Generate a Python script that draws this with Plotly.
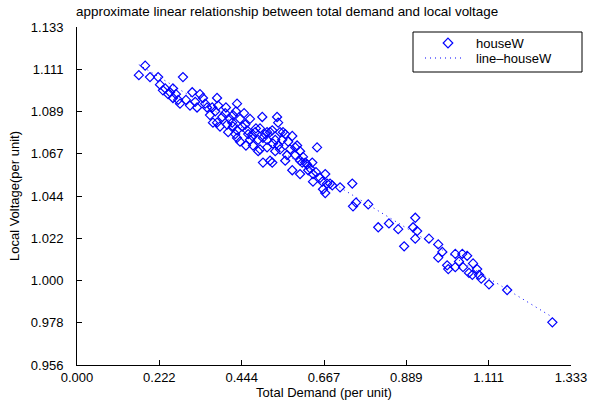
import numpy as np
import plotly.graph_objects as go

# Total demand (per unit) and local voltage (per unit)
demand = [0.167, 0.184, 0.197, 0.219, 0.224, 0.232, 0.238, 0.246, 0.251, 0.259,
          0.259, 0.267, 0.273, 0.278, 0.286, 0.294, 0.305, 0.311, 0.319, 0.324,
          0.332, 0.340, 0.346, 0.351, 0.359, 0.365, 0.367, 0.373, 0.378, 0.378,
          0.381, 0.386, 0.392, 0.400, 0.402, 0.405, 0.408, 0.413, 0.419, 0.421,
          0.421, 0.427, 0.429, 0.432, 0.432, 0.432, 0.440, 0.440, 0.446, 0.451,
          0.454, 0.456, 0.459, 0.462, 0.467, 0.467, 0.473, 0.475, 0.481, 0.483,
          0.489, 0.489, 0.494, 0.494, 0.500, 0.502, 0.502, 0.508, 0.513, 0.513,
          0.513, 0.521, 0.521, 0.527, 0.527, 0.529, 0.535, 0.535, 0.540, 0.543,
          0.543, 0.548, 0.548, 0.554, 0.556, 0.562, 0.562, 0.567, 0.570, 0.575,
          0.581, 0.581, 0.589, 0.589, 0.594, 0.602, 0.602, 0.602, 0.608, 0.610,
          0.616, 0.621, 0.624, 0.629, 0.635, 0.637, 0.637, 0.645, 0.648, 0.656,
          0.662, 0.664, 0.670, 0.670, 0.675, 0.683, 0.689, 0.710, 0.743, 0.745,
          0.753, 0.786, 0.813, 0.842, 0.867, 0.883, 0.907, 0.913, 0.913, 0.918,
          0.950, 0.975, 0.975, 0.986, 0.999, 1.002, 1.021, 1.021, 1.031, 1.040,
          1.042, 1.053, 1.058, 1.067, 1.069, 1.080, 1.085, 1.091, 1.112, 1.161,
          1.283]
voltage = [1.108, 1.113, 1.107, 1.107, 1.103, 1.100, 1.101, 1.098, 1.099, 1.101,
           1.096, 1.098, 1.095, 1.093, 1.107, 1.095, 1.092, 1.099, 1.094, 1.091,
           1.098, 1.096, 1.093, 1.091, 1.087, 1.091, 1.083, 1.089, 1.096, 1.083,
           1.092, 1.081, 1.086, 1.088, 1.091, 1.082, 1.078, 1.085, 1.083, 1.087,
           1.081, 1.077, 1.089, 1.093, 1.079, 1.075, 1.085, 1.073, 1.081, 1.088,
           1.082, 1.071, 1.079, 1.077, 1.085, 1.074, 1.076, 1.071, 1.078, 1.080,
           1.074, 1.068, 1.080, 1.069, 1.086, 1.075, 1.062, 1.077, 1.078, 1.074,
           1.070, 1.078, 1.063, 1.079, 1.062, 1.072, 1.074, 1.068, 1.086, 1.083,
           1.071, 1.078, 1.069, 1.074, 1.078, 1.077, 1.063, 1.066, 1.073, 1.069,
           1.076, 1.058, 1.070, 1.066, 1.071, 1.068, 1.063, 1.056, 1.062, 1.065,
           1.062, 1.061, 1.058, 1.059, 1.062, 1.056, 1.052, 1.057, 1.070, 1.054,
           1.052, 1.048, 1.056, 1.046, 1.051, 1.051, 1.050, 1.049, 1.051, 1.039,
           1.041, 1.040, 1.028, 1.030, 1.027, 1.018, 1.028, 1.033, 1.022, 1.026,
           1.022, 1.019, 1.012, 1.015, 1.008, 1.006, 1.014, 1.007, 1.010, 1.014,
           1.007, 1.013, 1.004, 1.003, 1.009, 1.006, 1.003, 1.001, 0.998, 0.995,
           0.978]

x_tickvals = [0.0, 0.22222, 0.44444, 0.66667, 0.88889, 1.11111, 1.33333]
x_ticktext = ["0.000", "0.222", "0.444", "0.667", "0.889", "1.111", "1.333"]
y_tickvals = [0.95556, 0.97778, 1.0, 1.02222, 1.04444, 1.06667, 1.08889, 1.11111, 1.13333]
y_ticktext = ["0.956", "0.978", "1.000", "1.022", "1.044", "1.067", "1.089", "1.111", "1.133"]
series_names = ["houseW", "line\u2013houseW"]

# linear fit line (line-houseW)
coef = np.polyfit(demand, voltage, 1)
fit_x = np.array(sorted(demand))
fit_y = np.polyval(coef, fit_x)

FONT = "Liberation Sans, Arial, sans-serif"
BLUE = "#0000FF"
DOTS = "1px,4px"

fig = go.Figure()
fig.add_trace(go.Scatter(
    x=demand, y=voltage, mode="markers", name=series_names[0],
    marker=dict(symbol="diamond-open", size=7, color=BLUE, line=dict(width=1.2, color=BLUE)),
))
fig.add_trace(go.Scatter(
    x=fit_x, y=fit_y, mode="lines", name=series_names[1],
    line=dict(color=BLUE, width=1, dash=DOTS),
))

axis_common = dict(
    showline=True, linecolor="black", linewidth=1, mirror=False,
    ticks="inside", ticklen=5, tickcolor="black", tickwidth=1,
    showgrid=False, zeroline=False, automargin=False,
    tickfont=dict(family=FONT, size=13, color="black"),
)

fig.update_layout(
    width=592, height=403,
    margin=dict(l=77, r=21, t=27, b=38),
    paper_bgcolor="white", plot_bgcolor="white",
    font=dict(family=FONT, size=13, color="black"),
    title=dict(text="approximate linear relationship between total demand and local voltage",
               x=0.485, xanchor="center", y=0.972, yanchor="middle",
               font=dict(family=FONT, size=13.4, color="black")),
    xaxis=dict(range=[0, 1.33333], tickvals=x_tickvals, ticktext=x_ticktext,
               ticklabelstandoff=0,
               title=dict(text="Total Demand (per unit)", standoff=1,
                          font=dict(family=FONT, size=13, color="black")),
               **axis_common),
    yaxis=dict(range=[0.95556, 1.13333], tickvals=y_tickvals, ticktext=y_ticktext,
               ticklabelstandoff=10,
               title=dict(text="Local Voltage(per unit)", standoff=8,
                          font=dict(family=FONT, size=13, color="black")),
               **axis_common),
    showlegend=False,
)

# Manual legend (paper coordinates)
def px_x(p):
    return (p - 77) / 494.0

def px_y(p):
    return (365 - p) / 338.0

fig.add_shape(type="rect", xref="paper", yref="paper",
              x0=px_x(413), x1=px_x(582), y0=px_y(72), y1=px_y(32),
              line=dict(color="black", width=1), fillcolor="white", layer="above")
cx, cy, hw = 448, 43, 4.8
fig.add_shape(type="path", xref="paper", yref="paper",
              path=(f"M {px_x(cx)},{px_y(cy - hw)} L {px_x(cx + hw)},{px_y(cy)} "
                    f"L {px_x(cx)},{px_y(cy + hw)} L {px_x(cx - hw)},{px_y(cy)} Z"),
              line=dict(color=BLUE, width=1.2), layer="above")
fig.add_shape(type="line", xref="paper", yref="paper",
              x0=px_x(425), x1=px_x(463), y0=px_y(58), y1=px_y(58),
              line=dict(color=BLUE, width=1, dash=DOTS), layer="above")
for name, yy in zip(series_names, [43, 58]):
    fig.add_annotation(xref="paper", yref="paper", x=px_x(474), y=px_y(yy),
                       text=name, showarrow=False, xanchor="left", yanchor="middle",
                       font=dict(family=FONT, size=13, color="black"))

fig.write_html("out.html")
